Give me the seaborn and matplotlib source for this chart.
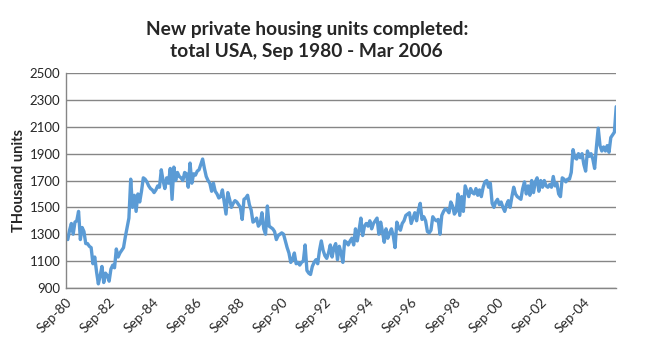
import matplotlib
matplotlib.use("Agg")
import matplotlib.pyplot as plt
import seaborn as sns
import pandas as pd

# monthly completions, thousand units (seasonally adjusted annual rate), Sep 1980 .. Mar 2006
completions = [
    1270, 1260, 1330, 1380, 1300, 1390, 1400, 1470, 1260, 1350, 1320, 1230,  # Sep80-Aug81
    1230, 1210, 1200, 1080, 1130, 1020, 930, 990, 1060, 940, 1010, 990,      # Sep81-Aug82
    950, 1040, 1070, 1050, 1190, 1130, 1160, 1180, 1200, 1280, 1350, 1420,   # Sep82-Aug83
    1710, 1500, 1590, 1470, 1600, 1540, 1620, 1720, 1710, 1690, 1660, 1640,  # Sep83-Aug84
    1630, 1610, 1630, 1660, 1650, 1780, 1700, 1640, 1720, 1680, 1790, 1560,  # Sep84-Aug85
    1800, 1700, 1760, 1730, 1720, 1700, 1760, 1750, 1650, 1830, 1680, 1750,  # Sep85-Aug86
    1740, 1770, 1780, 1820, 1860, 1790, 1730, 1700, 1680, 1620, 1680, 1620,  # Sep86-Aug87
    1600, 1570, 1580, 1630, 1540, 1450, 1610, 1560, 1500, 1530, 1550, 1540,  # Sep87-Aug88
    1520, 1500, 1410, 1560, 1570, 1590, 1520, 1480, 1390, 1400, 1420, 1360,  # Sep88-Aug89
    1380, 1460, 1340, 1300, 1510, 1360, 1350, 1340, 1320, 1260, 1290, 1300,  # Sep89-Aug90
    1310, 1300, 1250, 1200, 1160, 1090, 1110, 1160, 1080, 1090, 1070, 1090,  # Sep90-Aug91
    1100, 1220, 1030, 1010, 1000, 1060, 1090, 1110, 1080, 1180, 1250, 1180,  # Sep91-Aug92
    1140, 1120, 1160, 1220, 1130, 1200, 1230, 1110, 1210, 1160, 1090, 1250,  # Sep92-Aug93
    1240, 1220, 1250, 1270, 1220, 1340, 1250, 1330, 1420, 1290, 1360, 1380,  # Sep93-Aug94
    1360, 1400, 1340, 1380, 1400, 1420, 1300, 1390, 1320, 1240, 1340, 1270,  # Sep94-Aug95
    1310, 1340, 1290, 1200, 1390, 1350, 1330, 1380, 1400, 1440, 1450, 1460,  # Sep95-Aug96
    1380, 1420, 1460, 1400, 1480, 1530, 1410, 1430, 1400, 1320, 1310, 1330,  # Sep96-Aug97
    1430, 1410, 1400, 1410, 1300, 1440, 1470, 1490, 1480, 1460, 1540, 1510,  # Sep97-Aug98
    1450, 1470, 1600, 1440, 1580, 1470, 1660, 1620, 1580, 1640, 1610, 1600,  # Sep98-Aug99
    1640, 1590, 1630, 1580, 1650, 1690, 1700, 1650, 1680, 1530, 1500, 1540,  # Sep99-Aug00
    1560, 1520, 1540, 1500, 1470, 1520, 1550, 1500, 1580, 1650, 1600, 1580,  # Sep00-Aug01
    1570, 1560, 1640, 1690, 1600, 1660, 1590, 1700, 1610, 1690, 1720, 1620,  # Sep01-Aug02
    1700, 1650, 1700, 1660, 1650, 1670, 1650, 1730, 1660, 1680, 1600, 1580,  # Sep02-Aug03
    1720, 1710, 1690, 1710, 1710, 1760, 1930, 1870, 1860, 1900, 1870, 1900,  # Sep03-Aug04
    1820, 1770, 1920, 1880, 1900, 1860, 1790, 1950, 2090, 1960, 1920, 1950,  # Sep04-Aug05
    1920, 1960, 1910, 2020, 2040, 2060, 2250,                                # Sep05-Mar06
]
tick_labels = ["Sep-80", "Sep-82", "Sep-84", "Sep-86", "Sep-88", "Sep-90", "Sep-92",
               "Sep-94", "Sep-96", "Sep-98", "Sep-00", "Sep-02", "Sep-04"]
y_ticks = [900, 1100, 1300, 1500, 1700, 1900, 2100, 2300, 2500]

df = pd.DataFrame({"month": range(len(completions)), "units": completions})

sns.set_style("white")
plt.rcParams["font.family"] = ["Lato", "DejaVu Sans"]

fig = plt.figure(figsize=(6.5, 3.55), dpi=100)
ax = fig.add_axes([0.1015, 0.189, 0.8465, 0.605])

sns.lineplot(data=df, x="month", y="units", ax=ax, color="#5b9bd5", linewidth=2.4)

ax.set_xlim(0, len(completions) - 1)
ax.set_ylim(900, 2500)
ax.set_yticks(y_ticks)
ax.set_yticklabels([str(v) for v in y_ticks], fontsize=9.5)
ax.set_xticks(range(0, len(completions), 24))
ax.set_xticklabels(tick_labels, rotation=45, ha="right", rotation_mode="anchor", fontsize=9.8)
ax.tick_params(axis="both", length=0, pad=4)
ax.tick_params(axis="x", pad=6)

ax.grid(axis="y", color="#868686", linewidth=1.0)
ax.set_axisbelow(True)
for side in ["top", "right"]:
    ax.spines[side].set_visible(False)
for side in ["left", "bottom"]:
    ax.spines[side].set_color("#868686")
    ax.spines[side].set_linewidth(1.0)

ax.set_xlabel("")
ax.set_ylabel("THousand units", fontsize=10.5, fontweight="bold", labelpad=3)

fig.text(0.472, 0.887, "New private housing units completed:\ntotal USA, Sep 1980 - Mar 2006",
         ha="center", va="center", fontsize=13.8, fontweight="bold", linespacing=1.35)

fig.savefig("out.png", dpi=100)
